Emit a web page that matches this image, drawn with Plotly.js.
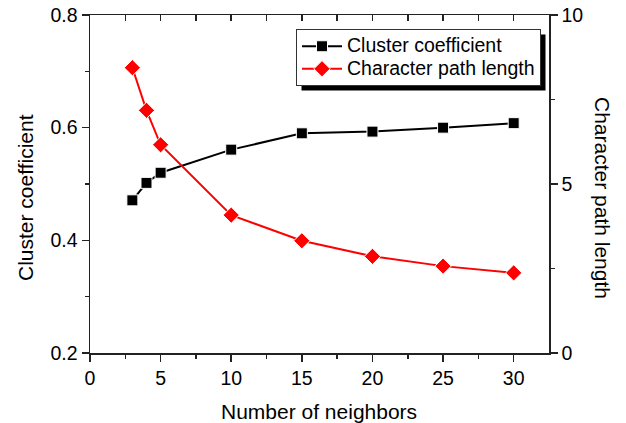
<!DOCTYPE html>
<html>
<head>
<meta charset="utf-8">
<script src="https://cdn.plot.ly/plotly-3.0.1.min.js"></script>
<style>html,body{margin:0;padding:0;background:#fff;}#chart{width:626px;height:423px;}</style>
</head>
<body>
<div id="chart"></div>
<script>
var neighbors = [3, 4, 5, 10, 15, 20, 25, 30];
var clusterCoefficient = [0.471, 0.502, 0.520, 0.561, 0.590, 0.593, 0.600, 0.608];
var characterPathLength = [8.44, 7.18, 6.16, 4.08, 3.32, 2.86, 2.57, 2.37];
var seriesNames = ["Cluster coefficient", "Character path length"];
var axisTitles = ["Number of neighbors", "Cluster coefficient", "Character path length"];

var FONT = "Liberation Sans, Arial, sans-serif";
var AX = "#222";
var TICKF = 19.5, TITLEF = 21, LEGF = 19.5;

function legendName(s) { return '<span style="font-size:' + LEGF + 'px">' + s + '</span>'; }

var traces = [
  {
    x: neighbors, y: clusterCoefficient, name: legendName(seriesNames[0]),
    type: "scatter", mode: "lines+markers", xaxis: "x", yaxis: "y",
    line: {color: "#000", width: 2},
    marker: {symbol: "square", size: 11, color: "#000", line: {color: "#fff", width: 1}}
  },
  {
    x: neighbors, y: characterPathLength, name: legendName(seriesNames[1]),
    type: "scatter", mode: "lines+markers", xaxis: "x", yaxis: "y2",
    line: {color: "#ff0000", width: 2},
    marker: {symbol: "diamond", size: 12.5, color: "#ff0000", line: {color: "#fff", width: 1}}
  },
  {
    x: [], y: [], xaxis: "x2", yaxis: "y", type: "scatter", mode: "markers",
    showlegend: false, hoverinfo: "skip"
  }
];

var W = 626, H = 423;
var L = 90, R = 549, T = 15, B = 353;
function px(x) { return (x - L) / (R - L); }
function py(y) { return 1 - (y - T) / (B - T); }

var layout = {
  width: W, height: H,
  margin: {l: L, r: W - R, t: T, b: H - B, pad: 0},
  paper_bgcolor: "#fff", plot_bgcolor: "#fff",
  font: {family: FONT, size: TICKF, color: "#000"},
  showlegend: true,
  legend: {
    x: px(296), y: py(29), xanchor: "left", yanchor: "top",
    bgcolor: "#fff", bordercolor: "#333", borderwidth: 1,
    font: {family: FONT, size: 15, color: "#000"},
    itemwidth: 40, tracegroupgap: 0
  },
  xaxis: {
    range: [0, 32.5], tickvals: [0, 5, 10, 15, 20, 25, 30],
    ticks: "outside", ticklen: 7, tickwidth: 1.5, tickcolor: AX,
    minor: {tickvals: [2.5, 7.5, 12.5, 17.5, 22.5, 27.5], ticks: "outside", ticklen: 4, tickwidth: 1.5, tickcolor: AX},
    showline: true, linecolor: AX, linewidth: 1.5, showgrid: false, zeroline: false,
    tickfont: {family: FONT, size: TICKF}, automargin: false
  },
  xaxis2: {
    overlaying: "x", side: "top", anchor: "y", range: [0, 32.5],
    tickvals: [0, 2.5, 5, 7.5, 10, 12.5, 15, 17.5, 20, 22.5, 25, 27.5, 30],
    ticks: "inside", ticklen: 6, tickwidth: 1.5, tickcolor: AX,
    showticklabels: false, showline: true, linecolor: AX, linewidth: 1.5,
    showgrid: false, zeroline: false, automargin: false
  },
  yaxis: {
    range: [0.2, 0.8], tickvals: [0.2, 0.4, 0.6, 0.8], ticktext: ["0.2", "0.4", "0.6", "0.8"],
    ticks: "outside", ticklen: 7, tickwidth: 1.5, tickcolor: AX,
    minor: {tickvals: [0.3, 0.5, 0.7], ticks: "outside", ticklen: 4, tickwidth: 1.5, tickcolor: AX},
    showline: true, linecolor: AX, linewidth: 1.5, showgrid: false, zeroline: false,
    tickfont: {family: FONT, size: TICKF}, automargin: false
  },
  yaxis2: {
    overlaying: "y", side: "right", anchor: "x", range: [0, 10], tickvals: [0, 5, 10],
    ticks: "outside", ticklen: 7, tickwidth: 1.5, tickcolor: AX,
    minor: {tickvals: [2.5, 7.5], ticks: "outside", ticklen: 4, tickwidth: 1.5, tickcolor: AX},
    showline: true, linecolor: AX, linewidth: 1.5, showgrid: false, zeroline: false,
    tickfont: {family: FONT, size: TICKF}, automargin: false
  },
  annotations: [
    {
      text: axisTitles[0], xref: "paper", yref: "paper",
      x: px(319), y: py(411), xanchor: "center", yanchor: "middle",
      showarrow: false, font: {family: FONT, size: TITLEF, color: "#000"}
    },
    {
      text: axisTitles[1], xref: "paper", yref: "paper",
      x: px(25), y: py(198), xanchor: "center", yanchor: "middle",
      textangle: -90, showarrow: false, font: {family: FONT, size: TITLEF, color: "#000"}
    },
    {
      text: axisTitles[2], xref: "paper", yref: "paper",
      x: px(603), y: py(198), xanchor: "center", yanchor: "middle",
      textangle: 90, showarrow: false, font: {family: FONT, size: TITLEF, color: "#000"}
    }
  ],
  shapes: []
};

var gd = document.getElementById("chart");
Plotly.newPlot(gd, traces, layout, {displayModeBar: false, staticPlot: true}).then(function () {
  // drop shadow behind the legend box, offset to lower right
  var bg = gd.querySelector(".legend .bg");
  if (!bg) return;
  var r = bg.getBoundingClientRect();
  var c = gd.getBoundingClientRect();
  var off = 5;
  var x0 = r.left - c.left + off, x1 = r.right - c.left + off;
  var y0 = r.top - c.top + off, y1 = r.bottom - c.top + off;
  return Plotly.relayout(gd, {
    shapes: [{
      type: "rect", xref: "paper", yref: "paper", layer: "above",
      x0: px(x0), x1: px(x1), y0: py(y1), y1: py(y0),
      fillcolor: "#000", line: {width: 0}
    }]
  });
});
</script>
</body>
</html>
